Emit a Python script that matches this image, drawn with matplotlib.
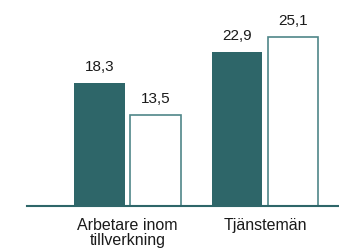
import matplotlib.pyplot as plt

# data
categories = ["Arbetare inom\ntillverkning", "Tjänstemän"]
dark_values = [18.3, 22.9]
light_values = [13.5, 25.1]
dark_labels = ["18,3", "22,9"]
light_labels = ["13,5", "25,1"]

teal = "#2e6669"
edge = "#4f8689"

plt.rcParams['font.family'] = ['Liberation Sans', 'DejaVu Sans']

fig = plt.figure(figsize=(3.39, 2.52), dpi=100)
ax = fig.add_axes([27 / 339, 46 / 252, 1 - 27 / 339, 1 - 46 / 252])

x = list(range(len(categories)))
width = 0.365
offset = 0.2036

b1 = ax.bar([i - offset for i in x], dark_values, width, color=teal, edgecolor=teal, linewidth=0)
b2 = ax.bar([i + offset for i in x], light_values, width, color="white", edgecolor=edge, linewidth=1.2)

for bars, labels in [(b1, dark_labels), (b2, light_labels)]:
    for bar, lab in zip(bars, labels):
        ax.annotate(lab, (bar.get_x() + bar.get_width() / 2, bar.get_height()),
                    xytext=(0, 9), textcoords="offset points",
                    ha="center", va="baseline", fontsize=11, color="#1a1a1a")

ax.set_xlim(-0.731, 1.538)
ax.set_ylim(0, 30.65)
ax.set_xticks(x)
ax.set_xticklabels(categories, fontsize=11.5, color="#1a1a1a", linespacing=1.05)
ax.tick_params(axis="x", length=0, pad=8.5)
ax.set_yticks([])
for s in ["top", "right", "left"]:
    ax.spines[s].set_visible(False)
ax.spines["bottom"].set_color(teal)
ax.spines["bottom"].set_linewidth(1.5)

fig.savefig("out.png", dpi=100)
